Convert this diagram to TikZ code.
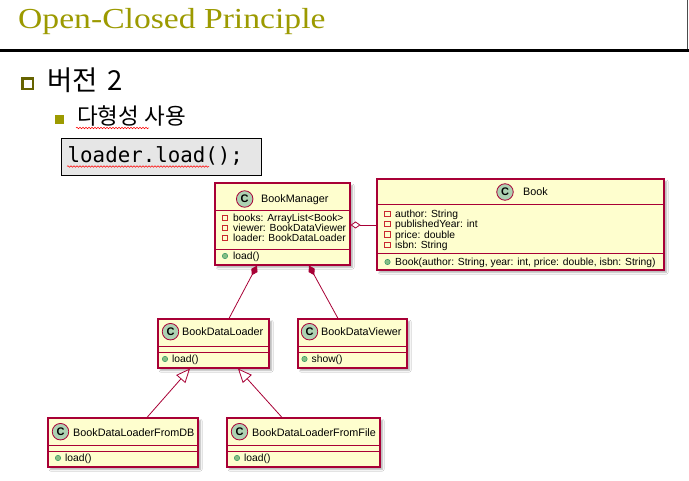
\documentclass[tikz,border=0pt]{standalone}
\usepackage{fontspec}
\setmainfont{Liberation Sans}
\newfontfamily\titlefont[FakeStretch=1.16]{Liberation Serif}
\newfontfamily\krfont{Noto Sans CJK KR}
\newfontfamily\codefont{DejaVu Sans Mono}
\usetikzlibrary{arrows.meta,shadows.blur,decorations.pathmorphing}

\definecolor{umlborder}{HTML}{A80036}
\definecolor{umlfill}{HTML}{FEFECE}
\definecolor{umlcircle}{HTML}{ADD1B2}
\definecolor{privred}{HTML}{C82930}
\definecolor{pubgreen}{HTML}{84BE84}
\definecolor{pubgreenline}{HTML}{038048}
\definecolor{titleolive}{HTML}{9C9A00}
\definecolor{bulletdark}{HTML}{666300}
\definecolor{codebg}{HTML}{E6E6E6}

\tikzset{
  cls/.style={draw=umlborder, fill=umlfill, line width=1.1, inner sep=0,
    blur shadow={shadow xshift=2.5pt, shadow yshift=-2.5pt,
      shadow blur radius=1.5pt, shadow opacity=30}},
  umlsep/.style={draw=umlborder, line width=0.9},
  circ/.style={circle, draw=umlborder, fill=umlcircle, line width=0.8,
    minimum size=16.5, inner sep=0, font=\bfseries\fontsize{11}{11}\selectfont},
  clsname/.style={anchor=base west, inner sep=0, font=\fontsize{10.8}{13}\selectfont},
  member/.style={anchor=base west, inner sep=0, font=\fontsize{10.3}{12}\selectfont},
  privicon/.style={rectangle, draw=privred, line width=0.8, minimum size=5.5, inner sep=0},
  pubicon/.style={circle, fill=pubgreen, draw=pubgreenline, line width=0.3,
    minimum size=5.5, inner sep=0},
  umlline/.style={draw=umlborder, line width=0.8},
  squiggle/.style={draw=red, line width=0.5, decorate,
    decoration={snake, amplitude=0.8, segment length=3}},
}

\begin{document}
\begin{tikzpicture}[x=1pt, y=-1pt]
\fill[white] (0,0) rectangle (689,481);
\useasboundingbox (0,0) rectangle (689,481);

% slide header
\node[anchor=base west, inner sep=0, text=titleolive,
  font=\titlefont\fontsize{29}{32}\selectfont] (title) at (18,29) {Open-Closed Principle};
\draw[line width=3] (0,50.5) -- (689,50.5);
\draw[line width=1, black!70] (687.5,0) -- (687.5,49);

% bullets
\node[draw=bulletdark, line width=2.5, fill=white, minimum size=10.5, inner sep=0] (b1) at (27.5,84) {};
\node[anchor=base west, inner sep=0, font=\krfont\fontsize{27.5}{30}\selectfont] (v2) at (47,90.5) {버전\hspace{4pt} 2};
\node[fill=titleolive, minimum size=9, inner sep=0] (b2) at (59.5,120) {};
\node[anchor=base west, inner sep=0, font=\krfont\fontsize{22.5}{26}\selectfont] (poly) at (77,124.5) {다형성 사용};
\draw[squiggle] (76,128) -- (149,128);

% code snippet
\node[draw, fill=codebg, line width=1, anchor=north west, minimum width=200,
  minimum height=37, inner sep=0] (code) at (61,138) {};
\node[anchor=base west, inner sep=0, font=\codefont\fontsize{20.8}{24}\selectfont] (codetext) at (67.5,163) {loader.load();};
\draw[squiggle] (67,166.5) -- (209,166.5);

% ---- class boxes ----
\node[cls, minimum width=135, minimum height=82] (bm) at (282.5,224) {};
\node[cls, minimum width=287, minimum height=91] (book) at (520.5,224.5) {};
\node[cls, minimum width=111, minimum height=49] (bdl) at (213.5,343.5) {};
\node[cls, minimum width=109, minimum height=49] (bdv) at (352.5,343.5) {};
\node[cls, minimum width=150, minimum height=49] (db) at (123,442.5) {};
\node[cls, minimum width=153, minimum height=49] (file) at (303.5,442.5) {};

% compartment separators
\draw[umlsep] (bm.west |- 0,210) -- (bm.east |- 0,210);
\draw[umlsep] (bm.west |- 0,249) -- (bm.east |- 0,249);
\draw[umlsep] (book.west |- 0,204.5) -- (book.east |- 0,204.5);
\draw[umlsep] (book.west |- 0,253) -- (book.east |- 0,253);
\foreach \c in {bdl,bdv}{
  \draw[umlsep] (\c.west |- 0,346) -- (\c.east |- 0,346);
  \draw[umlsep] (\c.west |- 0,352) -- (\c.east |- 0,352);
}
\foreach \c in {db,file}{
  \draw[umlsep] (\c.west |- 0,445) -- (\c.east |- 0,445);
  \draw[umlsep] (\c.west |- 0,451) -- (\c.east |- 0,451);
}

% BookManager
\node[circ] (bmC) at (244.7,199) {C};
\node[clsname] (bmN) at (261,202.5) {BookManager};
\node[privicon] (bmI1) at (225,218) {};
\node[member] (bmA1) at (233,221.7) {books: ArrayList<Book>};
\node[privicon] (bmI2) at (225,228) {};
\node[member] (bmA2) at (233,231.7) {viewer: BookDataViewer};
\node[privicon] (bmI3) at (225,238) {};
\node[member] (bmA3) at (233,241.7) {loader: BookDataLoader};
\node[pubicon] (bmI4) at (225,256) {};
\node[member] (bmM1) at (233,259.5) {load()};

% Book
\node[circ] (bookC) at (505,192) {C};
\node[clsname] (bookN) at (523,195.7) {Book};
\node[privicon] (bookI1) at (387.5,213.8) {};
\node[member] (bookA1) at (395,217.5) {author: String};
\node[privicon] (bookI2) at (387.5,224.1) {};
\node[member] (bookA2) at (395,227.8) {publishedYear: int};
\node[privicon] (bookI3) at (387.5,234.4) {};
\node[member] (bookA3) at (395,238.1) {price: double};
\node[privicon] (bookI4) at (387.5,244.7) {};
\node[member] (bookA4) at (395,248.4) {isbn: String};
\node[pubicon] (bookI5) at (387.5,262) {};
\node[member] (bookM1) at (395,265.5) {Book(author: String, year: int, price: double, isbn: String)};

% BookDataLoader
\node[circ] (bdlC) at (170.5,331.7) {C};
\node[clsname] (bdlN) at (182,336) {BookDataLoader};
\node[pubicon] (bdlI) at (165,359) {};
\node[member] (bdlM) at (172,362.7) {load()};

% BookDataViewer
\node[circ] (bdvC) at (309.5,331.7) {C};
\node[clsname] (bdvN) at (321,336) {BookDataViewer};
\node[pubicon] (bdvI) at (304.5,359) {};
\node[member] (bdvM) at (311.5,362.7) {show()};

% BookDataLoaderFromDB
\node[circ] (dbC) at (60.5,431.7) {C};
\node[clsname] (dbN) at (73,436) {BookDataLoaderFromDB};
\node[pubicon] (dbI) at (58,458) {};
\node[member] (dbM) at (65,461.7) {load()};

% BookDataLoaderFromFile
\node[circ] (fileC) at (239.5,431.7) {C};
\node[clsname] (fileN) at (252,436) {BookDataLoaderFromFile};
\node[pubicon] (fileI) at (237,458) {};
\node[member] (fileM) at (244,461.7) {load()};

% ---- relations ----
\draw[umlline, {Diamond[open, length=10, width=7, fill=white]}-]
  (bm.east |- 0,225) -- (book.west |- 0,225);
\draw[umlline, {Diamond[length=11, width=7]}-]
  ([xshift=-25.5]bm.south) -- ([xshift=15.5]bdl.north);
\draw[umlline, {Diamond[length=11, width=7]}-]
  ([xshift=26.5]bm.south) -- ([xshift=-14.5]bdv.north);
\draw[umlline, -{Triangle[open, length=14, width=12, fill=white]}]
  ([xshift=24]db.north) -- ([xshift=-23.5]bdl.south);
\draw[umlline, -{Triangle[open, length=14, width=12, fill=white]}]
  ([xshift=-21.5]file.north) -- ([xshift=24.5]bdl.south);
\end{tikzpicture}
\end{document}
